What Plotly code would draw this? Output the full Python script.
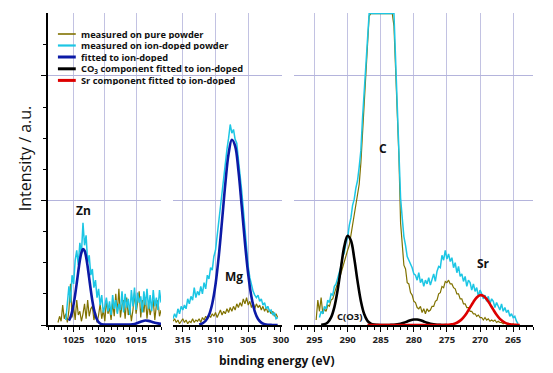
import numpy as np
import plotly.graph_objects as go

# ---------------- data ----------------
STEP = 0.25

# Zn region
zn_pure_start = 1027.5
zn_pure = [0.02,0.07,0.03,0.16,0.05,0.09,0.02,0.12,0.33,0.06,
           0.15,0.04,0.20,0.08,0.11,0.03,0.09,0.17,0.05,0.20,
           0.07,0.13,0.15,0.04,0.10,0.02,0.08,0.17,0.05,0.12,
           0.03,0.20,0.09,0.14,0.04,0.18,0.07,0.25,0.10,0.29,
           0.06,0.16,0.20,0.05,0.22,0.08,0.15,0.03,0.12,0.26,
           0.09,0.17,0.27,0.06,0.20,0.10,0.22,0.05,0.18,0.08,
           0.13,0.20,0.04,0.16,0.20,0.07,0.12]
zn_doped_start = 1026.25
zn_doped = [0.04,0.15,0.31,0.18,0.40,0.33,0.52,0.60,0.48,0.66,
            0.57,0.82,0.64,0.72,0.50,0.56,0.40,0.45,0.30,0.36,
            0.22,0.29,0.16,0.24,0.10,0.15,0.22,0.11,0.19,0.08,
            0.24,0.13,0.20,0.09,0.17,0.12,0.27,0.10,0.25,0.14,
            0.21,0.08,0.28,0.15,0.30,0.12,0.26,0.18,0.23,0.10,
            0.27,0.16,0.29,0.13,0.24,0.11,0.28,0.15,0.22,0.12,
            0.28,0.18]
zn_fit_E = [1025.75,1025.5,1025.25,1025.0,1024.75,1024.5,1024.25,1024.0,1023.75,1023.5,
            1023.25,1023.0,1022.75,1022.5,1022.25,1022.0,1021.75,1021.5,1021.25,1021.0,
            1020.75,1020.5,1020.0,1019.0,1018.0,1017.0,1016.0,1015.5,1015.0,1014.5,
            1014.0,1013.5,1013.0,1012.5,1012.0,1011.5,1011.0]
zn_fit = [0.035,0.062,0.105,0.166,0.244,0.335,0.431,0.518,0.581,0.610,
          0.597,0.546,0.468,0.374,0.279,0.195,0.127,0.078,0.044,0.023,
          0.012,0.006,0.004,0.003,0.003,0.003,0.004,0.006,0.012,0.022,
          0.031,0.036,0.033,0.026,0.018,0.013,0.010]

# Mg region
mg_start = 316.5
mg_pure = [0.03,0.05,0.02,0.04,0.01,0.03,0.05,0.02,0.04,0.01,
           0.03,0.02,0.05,0.02,0.04,0.03,0.05,0.02,0.06,0.04,
           0.07,0.05,0.08,0.06,0.09,0.07,0.10,0.06,0.09,0.12,
           0.08,0.11,0.09,0.13,0.10,0.14,0.11,0.15,0.12,0.17,
           0.14,0.18,0.15,0.21,0.17,0.22,0.16,0.19,0.14,0.18,
           0.13,0.17,0.14,0.16,0.12,0.15,0.11,0.14,0.10,0.12,
           0.09,0.11,0.07,0.09,0.06]
mg_doped = [0.05,0.09,0.06,0.13,0.09,0.15,0.12,0.16,0.13,0.21,
            0.17,0.23,0.20,0.30,0.22,0.27,0.24,0.31,0.25,0.34,
            0.29,0.40,0.37,0.46,0.44,0.55,0.60,0.72,0.80,0.93,
            1.04,1.16,1.30,1.41,1.50,1.61,1.54,1.57,1.49,1.46,
            1.33,1.22,1.08,0.93,0.76,0.62,0.47,0.38,0.31,0.27,
            0.24,0.22,0.24,0.19,0.21,0.16,0.18,0.13,0.15,0.11,
            0.12,0.08,0.10,0.05,0.06]
mg_fit_start = 312.5
mg_fit = [0.004,0.013,0.034,0.080,0.171,0.325,0.552,0.837,1.134,1.374,
          1.487,1.437,1.241,0.958,0.661,0.407,0.224,0.110,0.048,0.019,
          0.007,0.002,0.001,0.0,0.0]

# C / Sr region
c_pure_start = 294.75
c_pure = [0.04,0.20,0.11,0.22,0.09,0.13,0.11,0.16,0.15,0.20,
          0.21,0.26,0.29,0.34,0.37,0.42,0.45,0.50,0.55,0.60,
          0.64,0.72,0.79,0.87,0.95,1.03,1.13,1.30,1.52,1.78,
          2.02,2.26,2.48,2.5,2.5,2.5,2.5,2.5,2.5,2.5,
          2.5,2.5,2.5,2.5,2.5,2.5,2.5,2.40,2.08,1.72,
          1.35,0.82,0.65,0.48,0.45,0.34,0.33,0.26,0.24,0.19,
          0.18,0.14,0.13,0.15,0.10,0.13,0.09,0.13,0.11,0.12,
          0.15,0.15,0.19,0.20,0.25,0.26,0.31,0.30,0.35,0.34,
          0.36,0.33,0.33,0.30,0.29,0.25,0.25,0.21,0.21,0.17,
          0.17,0.14,0.14,0.11,0.11,0.09,0.09,0.07,0.08,0.06,
          0.06,0.04,0.06,0.04,0.05,0.03,0.04,0.03,0.04,0.02,
          0.03,0.02,0.02,0.01,0.02,0.01,0.01,0.01,0.00,0.01,
          0.00,0.00]
c_doped_start = 294.25
c_doped = [0.06,0.11,0.09,0.15,0.13,0.20,0.18,0.25,0.24,0.31,
           0.33,0.38,0.43,0.47,0.55,0.58,0.66,0.70,0.80,0.86,
           0.96,1.01,1.10,1.16,1.27,1.40,1.66,1.88,2.09,2.30,
           2.5,2.5,2.5,2.5,2.5,2.5,2.5,2.5,2.5,2.5,
           2.5,2.5,2.5,2.5,2.5,2.5,
           2.13,1.77,1.40,1.02,0.86,0.71,0.64,0.55,0.52,0.49,
           0.46,0.41,0.40,0.36,0.42,0.34,0.37,0.31,0.36,0.33,
           0.38,0.32,0.36,0.41,0.35,0.43,0.47,0.46,0.56,0.52,
           0.60,0.53,0.57,0.51,0.54,0.46,0.50,0.42,0.47,0.39,
           0.41,0.35,0.39,0.31,0.36,0.34,0.28,0.33,0.27,0.30,
           0.23,0.28,0.25,0.21,0.24,0.19,0.23,0.17,0.21,0.19,
           0.14,0.18,0.15,0.12,0.17,0.11,0.14,0.10,0.12,0.07,
           0.09,0.06,0.07,0.03,0.01]
co3_fit_start = 294.0
co3_fit = [0.002,0.006,0.021,0.061,0.144,0.283,0.463,0.631,0.717,0.679,
           0.536,0.352,0.193,0.088,0.033,0.011,0.003,0.001,0.0,0.0,
           0.0,0.001,0.002,0.005,0.010,0.018,0.028,0.038,0.044,0.044,
           0.038,0.028,0.018,0.010,0.005,0.002,0.001,0.0,0.0]
sr_fit_start = 287.0
sr_fit = [0.0]*24 + [0.001,0.004,0.008,0.018,0.035,0.061,0.097,0.141,0.185,0.221,
                     0.239,0.234,0.208,0.168,0.123,0.082,0.049,0.027,0.013,0.006,
                     0.002,0.001,0.0]

# ---------------- figure ----------------
def grid(start, vals, step=STEP):
    return start - step * np.arange(len(vals))

OLIVE = "#807200"
CYAN = "#1cc6e4"
BLUE = "#0c1aa6"
BLACK = "#000000"
RED = "#dd0000"

fig = go.Figure()
panels = [
    ("x", [(grid(zn_pure_start, zn_pure), zn_pure, OLIVE, 1.2, "linear"),
           (grid(zn_doped_start, zn_doped), zn_doped, CYAN, 1.5, "linear"),
           (np.array(zn_fit_E), zn_fit, BLUE, 2.6, "spline")]),
    ("x2", [(grid(mg_start, mg_pure), mg_pure, OLIVE, 1.2, "linear"),
            (grid(mg_start, mg_doped), mg_doped, CYAN, 1.5, "linear"),
            (grid(mg_fit_start, mg_fit, 0.5), mg_fit, BLUE, 2.6, "spline")]),
    ("x3", [(grid(c_pure_start, c_pure), c_pure, OLIVE, 1.2, "linear"),
            (grid(c_doped_start, c_doped), c_doped, CYAN, 1.5, "linear"),
            (grid(co3_fit_start, co3_fit, 0.5), co3_fit, BLACK, 2.6, "spline"),
            (grid(sr_fit_start, sr_fit, 0.5), sr_fit, RED, 2.6, "spline")]),
]
for xa, series in panels:
    for x, y, col, w, shape in series:
        fig.add_trace(go.Scatter(x=x, y=y, mode="lines", xaxis=xa, yaxis="y",
                                 line=dict(color=col, width=w, shape=shape),
                                 showlegend=False, hoverinfo="skip"))

GRID = "#c2c2e2"
tickfont = dict(family="Open Sans", size=9.5, color="#222222", weight="bold")
xcommon = dict(anchor="y", showline=True, linecolor="black", linewidth=1.5,
               ticks="outside", ticklen=5, tickwidth=1.2, tickcolor="black",
               tick0=0, dtick=5, showgrid=True, gridcolor=GRID, gridwidth=1,
               zeroline=False, tickfont=tickfont,
               minor=dict(dtick=1, tick0=0, ticks="outside", ticklen=3,
                          tickwidth=1, tickcolor="black", showgrid=False))

fig.update_layout(
    width=553, height=373,
    margin=dict(l=48, r=16, t=13, b=48),
    paper_bgcolor="white", plot_bgcolor="white",
    xaxis=dict(domain=[0, 0.2331], range=[1029.1, 1011.0], **xcommon),
    xaxis2=dict(domain=[0.2577, 0.4816], range=[316.5, 299.9], **xcommon),
    xaxis3=dict(domain=[0.5065, 1.0], range=[298.15, 262.0], **xcommon),
    yaxis=dict(domain=[0, 1], range=[0, 2.505], anchor="x", showline=True,
               linecolor="black", linewidth=1.5, ticks="outside", ticklen=5.5,
               tickwidth=1.2, tickcolor="black", tick0=0, dtick=1,
               showticklabels=False, showgrid=True, gridcolor="#b4b4dc",
               gridwidth=1, zeroline=False,
               minor=dict(tickvals=[0.25, 0.5, 0.75, 1.25, 1.5, 1.75, 2.25],
                          ticks="outside", ticklen=3, tickwidth=1,
                          tickcolor="black", showgrid=False)),
    showlegend=False,
)

bold = dict(family="Open Sans", color="#111111", weight="bold")
labels = [
    ("x", 1023.4, 0.92, "Zn", 12),
    ("x2", 307.2, 0.39, "Mg", 12),
    ("x3", 284.6, 1.42, "C", 12),
    ("x3", 269.45, 0.49, "Sr", 12),
    ("x3", 289.7, 0.07, "C(O3)", 9.5),
]
for xa, xv, yv, txt, sz in labels:
    fig.add_annotation(x=xv, y=yv, xref=xa, yref="y", text=txt, showarrow=False,
                       font=dict(size=sz, **bold), xanchor="center", yanchor="middle")

# axis titles
fig.add_annotation(x=(278 - 48) / 489, y=(325 - 360) / 312, xref="paper", yref="paper",
                   text="binding energy (eV)", showarrow=False,
                   font=dict(size=12, **bold), xanchor="center", yanchor="middle")
fig.add_annotation(x=(25 - 48) / 489, y=(325 - 159) / 312, xref="paper", yref="paper",
                   text="Intensity / a.u.", showarrow=False, textangle=-90,
                   font=dict(family="Open Sans", size=16, color="#111111"),
                   xanchor="center", yanchor="middle")

# hand-drawn legend
legend_items = [
    ("measured on pure powder", OLIVE, 1.6),
    ("measured on ion-doped powder", CYAN, 2.2),
    ("fitted to ion-doped", BLUE, 3),
    ("CO<sub>3</sub> component fitted to ion-doped", BLACK, 3),
    ("Sr component fitted to ion-doped", RED, 3),
]
rows_px = [34, 45.5, 57, 68.8, 80.4]
for (txt, col, w), py in zip(legend_items, rows_px):
    yp = (325 - py) / 312
    fig.add_shape(type="line", xref="paper", yref="paper",
                  x0=(58 - 48) / 489, x1=(76 - 48) / 489, y0=yp, y1=yp,
                  line=dict(color=col, width=w))
    fig.add_annotation(x=(80 - 48) / 489, y=yp, xref="paper", yref="paper",
                       text=txt, showarrow=False, xanchor="left", yanchor="middle",
                       height=10, borderpad=0, font=dict(size=9.3, **bold))

fig.write_html("out.html", config={"displayModeBar": False},
               post_script="document.body.style.margin='0';document.body.style.padding='0';")
